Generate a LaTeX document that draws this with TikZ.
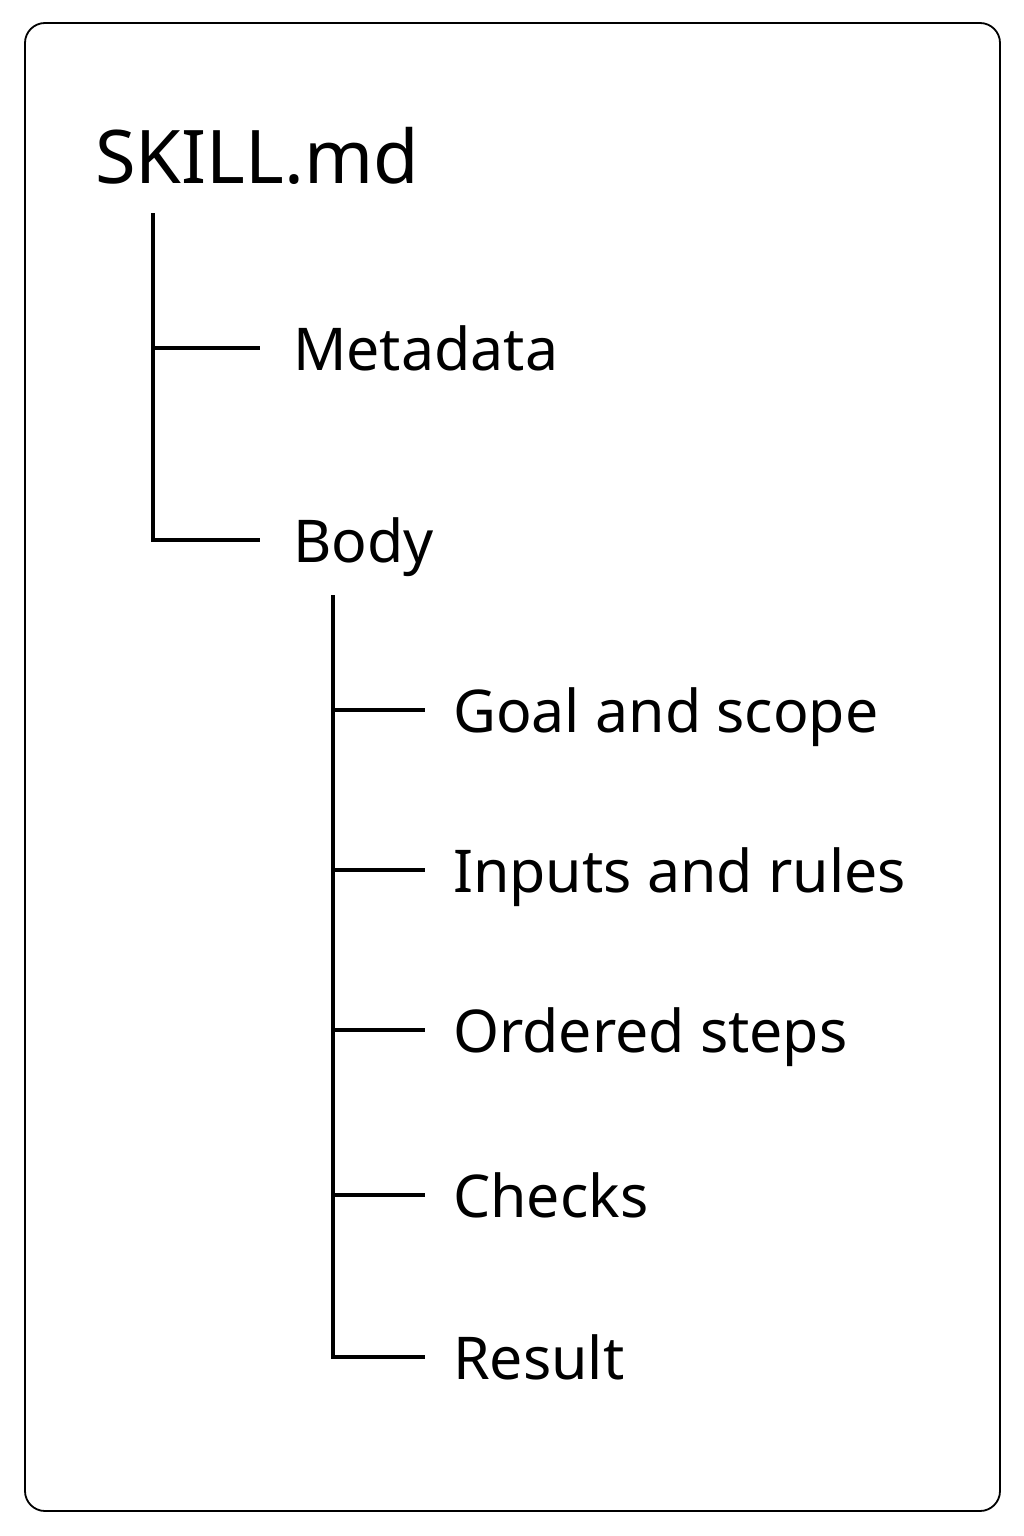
\documentclass[tikz,border=0pt]{standalone}
\usepackage{fontspec}
\setmainfont{Noto Sans}
\usetikzlibrary{positioning}

\begin{document}
\begin{tikzpicture}
        [x=1pt, y=-1pt,
        item/.style={anchor=base west, inner sep=0pt, font=\fontsize{59}{66}\selectfont},
        title/.style={anchor=base west, inner sep=0pt, font=\fontsize{74}{80}\selectfont},
        tree/.style={line width=3.4pt}]
        \useasboundingbox (0,0) rectangle (1024,1536);
        \draw[line width=1.8pt, rounded corners=20pt] (25,23) rectangle (1000,1511);
        \node[title] (root) at (95,183) {SKILL.md};
        \node[item] (meta) at (293,370) {Metadata};
        \node[item] (body) at (293,562) {Body};
        \node[item] (goal) at (453,732) {Goal and scope};
        \node[item] (inputs) at (453,892) {Inputs and rules};
        \node[item] (steps) at (453,1052) {Ordered steps};
        \node[item] (checks) at (453,1217) {Checks};
        \node[item] (result) at (453,1379) {Result};
        \coordinate (t1) at (153,213);
        \coordinate (t2) at (333,595);
        \draw[tree] (t1) |- (260,540);
        \draw[tree] (153,348) -- (260,348);
        \draw[tree] (t2) |- (425,1357);
        \foreach \y in {710,870,1030,1195}
            \draw[tree] (333,\y) -- (425,\y);
\end{tikzpicture}
\end{document}
